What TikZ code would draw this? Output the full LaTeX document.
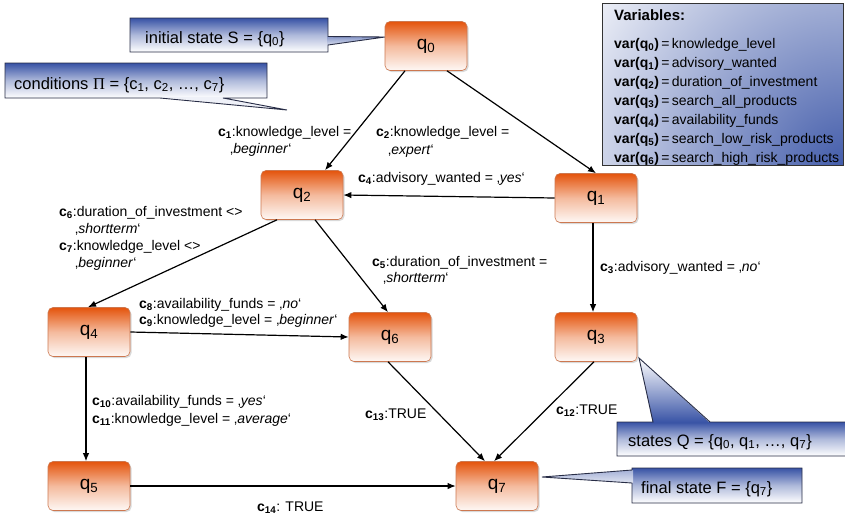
\documentclass[tikz,border=0pt]{standalone}
\usepackage{fontspec}
\setmainfont{Liberation Sans}
\newfontfamily\serifPi{Liberation Serif}
\usetikzlibrary{shadows,arrows.meta}
\definecolor{qorange}{RGB}{228,84,12}
\definecolor{qborder}{RGB}{205,120,80}
\definecolor{cblue}{RGB}{55,82,165}
\definecolor{cline}{RGB}{40,45,70}
\newcommand{\cc}[1]{\textbf{c\textsubscript{#1}}}
\newcommand{\vq}[1]{\textbf{var(q\textsubscript{#1})}\,=\,}
\newcommand{\lowq}{‚}
\newcommand{\hiq}{‘}
\tikzset{
  state/.style={rounded corners=5pt, draw=qborder, line width=0.6pt,
    top color=qorange, bottom color=qorange!4!white, middle color=qorange!40!white,
    minimum width=82pt, minimum height=49pt, inner sep=0pt,
    font=\fontsize{19}{21}\selectfont,
    drop shadow={shadow xshift=1.5pt, shadow yshift=-1.5pt, opacity=0.3}},
  edge/.style={line width=1.2pt, -{Latex[length=8pt,width=6.5pt]}},
  lbl/.style={font=\fontsize{14}{16}\selectfont, inner sep=0pt, anchor=base west},
  varl/.style={font=\fontsize{14}{16}\selectfont, inner sep=0pt, anchor=base west},
  ctext/.style={font=\fontsize{16.5}{18}\selectfont, inner sep=0pt, anchor=base west},
  cshade/.style={top color=cblue, bottom color=white, middle color=cblue!40!white},
  cline/.style={draw=cline, line width=0.9pt, line join=miter},
}
\begin{document}
\begin{tikzpicture}[x=1pt,y=-1pt]
\useasboundingbox (0,0) rectangle (845,517);

% ---- variables box
\fill[white] (602,3) rectangle (843,165);
\begin{scope}
  \clip (602,3) rectangle (843,165);
  \shade[inner color=cblue!95, outer color=white] (846,170) circle (330);
\end{scope}
\draw[draw=black!80, line width=1pt] (602,3) rectangle (843,165);
\node[varl, font=\bfseries\fontsize{15}{17}\selectfont] (vt) at (614,20) {Variables:};
\node[varl] (v0) at (614,48) {\vq{0}knowledge\_level};
\node[varl] (v1) at (614,67) {\vq{1}advisory\_wanted};
\node[varl] (v2) at (614,86) {\vq{2}duration\_of\_investment};
\node[varl] (v3) at (614,105) {\vq{3}search\_all\_products};
\node[varl] (v4) at (614,124) {\vq{4}availability\_funds};
\node[varl] (v5) at (614,143) {\vq{5}search\_low\_risk\_products};
\node[varl] (v6) at (614,162) {\vq{6}search\_high\_risk\_products};

% ---- callouts
% initial state
\shade[cshade] (130,18) rectangle (328,52);
\shade[top color=cblue!60!white, bottom color=cblue!20!white] (327,36.5) -- (385,37) -- (327,45) -- cycle;
\draw[cline] (130,18) -- (328,18) -- (328,36.5) -- (385,37) -- (328,45) -- (328,52) -- (130,52) -- cycle;
\node[ctext] (tinit) at (145,43) {initial state S = \{q\textsubscript{0}\}};
% conditions
\shade[cshade] (5,63) rectangle (267,98);
\fill[cblue!8!white] (160,97) -- (287,110) -- (223,97) -- cycle;
\draw[cline] (5,63) -- (267,63) -- (267,98) -- (223,98) -- (287,110) -- (160,98) -- (5,98) -- cycle;
\node[ctext] (tcond) at (14,89) {conditions {\serifPi Π} = \{c\textsubscript{1}, c\textsubscript{2}, …, c\textsubscript{7}\}};
% states
\shade[cshade] (617,422) rectangle (848,456);
\shade[top color=white, bottom color=cblue] (653,423) -- (639,358) -- (710,423) -- cycle;
\draw[cline] (848,422) -- (710,422) -- (639,358) -- (653,422) -- (617,422) -- (617,456) -- (848,456);
\node[ctext] (tstates) at (628,446) {states Q = \{q\textsubscript{0}, q\textsubscript{1}, …, q\textsubscript{7}\}};
% final
\shade[cshade] (632,468) rectangle (802,503);
\shade[top color=cblue!45!white, bottom color=cblue!15!white] (633,470) -- (542,477) -- (633,483) -- cycle;
\draw[cline] (632,468) -- (802,468) -- (802,503) -- (632,503) -- (632,483) -- (542,477) -- (632,470) -- cycle;
\node[ctext] (tfinal) at (641,493) {final state F = \{q\textsubscript{7}\}};

% ---- states
\node[state] (q0) at (426,46) {q\textsubscript{0}};
\node[state] (q1) at (596,198) {q\textsubscript{1}};
\node[state] (q2) at (302,195) {q\textsubscript{2}};
\node[state] (q3) at (596,337) {q\textsubscript{3}};
\node[state] (q4) at (89,332) {q\textsubscript{4}};
\node[state] (q5) at (89,486) {q\textsubscript{5}};
\node[state] (q6) at (390,337) {q\textsubscript{6}};
\node[state] (q7) at (497,486) {q\textsubscript{7}};

% ---- edges
\draw[edge] ([xshift=-21pt]q0.south) -- ([xshift=23pt]q2.north);
\draw[edge] ([xshift=21pt]q0.south) -- (q1.north);
\draw[edge] (q1.west) -- (q2.east);
\draw[edge] ([xshift=-3pt]q1.south) -- ([xshift=-3pt]q3.north);
\draw[edge] ([xshift=-25pt]q2.south) -- ([xshift=-1pt]q4.north);
\draw[edge] ([xshift=13pt]q2.south) -- ([xshift=-2pt]q6.north);
\draw[edge] (q4.east) -- (q6.west);
\draw[edge] ([xshift=-3pt]q4.south) -- ([xshift=-3pt]q5.north);
\draw[edge] ([xshift=-2pt]q6.south) -- ([xshift=-12pt]q7.north);
\draw[edge] ([xshift=-2pt]q3.south) -- ([xshift=-3pt]q7.north);
\draw[edge] (q5.east) -- (q7.west);

% ---- labels
\node[lbl] (l1a) at (218,136) {\cc{1}:knowledge\_level =};
\node[lbl] (l1b) at (230,153) {\lowq\textit{beginner}\hiq};
\node[lbl] (l2a) at (376,136) {\cc{2}:knowledge\_level =};
\node[lbl] (l2b) at (388,154) {\lowq\textit{expert}\hiq};
\node[lbl] (l4) at (358,182) {\cc{4}:advisory\_wanted = \lowq\textit{yes}\hiq};
\node[lbl] (l6a) at (59,216) {\cc{6}:duration\_of\_investment <>};
\node[lbl] (l6b) at (75,233) {\lowq\textit{shortterm}\hiq};
\node[lbl] (l7a) at (59,250) {\cc{7}:knowledge\_level <>};
\node[lbl] (l7b) at (75,267) {\lowq\textit{beginner}\hiq};
\node[lbl] (l5a) at (372,266) {\cc{5}:duration\_of\_investment =};
\node[lbl] (l5b) at (383,282) {\lowq\textit{shortterm}\hiq};
\node[lbl] (l3) at (600,271) {\cc{3}:advisory\_wanted = \lowq\textit{no}\hiq};
\node[lbl] (l8) at (139,308) {\cc{8}:availability\_funds = \lowq\textit{no}\hiq};
\node[lbl] (l9) at (139,324) {\cc{9}:knowledge\_level = \lowq\textit{beginner}\hiq};
\node[lbl] (l10) at (92,405) {\cc{10}:availability\_funds = \lowq\textit{yes}\hiq};
\node[lbl] (l11) at (92,423) {\cc{11}:knowledge\_level = \lowq\textit{average}\hiq};
\node[lbl] (l13) at (365,418) {\cc{13}:TRUE};
\node[lbl] (l12) at (556,414) {\cc{12}:TRUE};
\node[lbl] (l14) at (257,511) {\cc{14}: TRUE};
\end{tikzpicture}
\end{document}
